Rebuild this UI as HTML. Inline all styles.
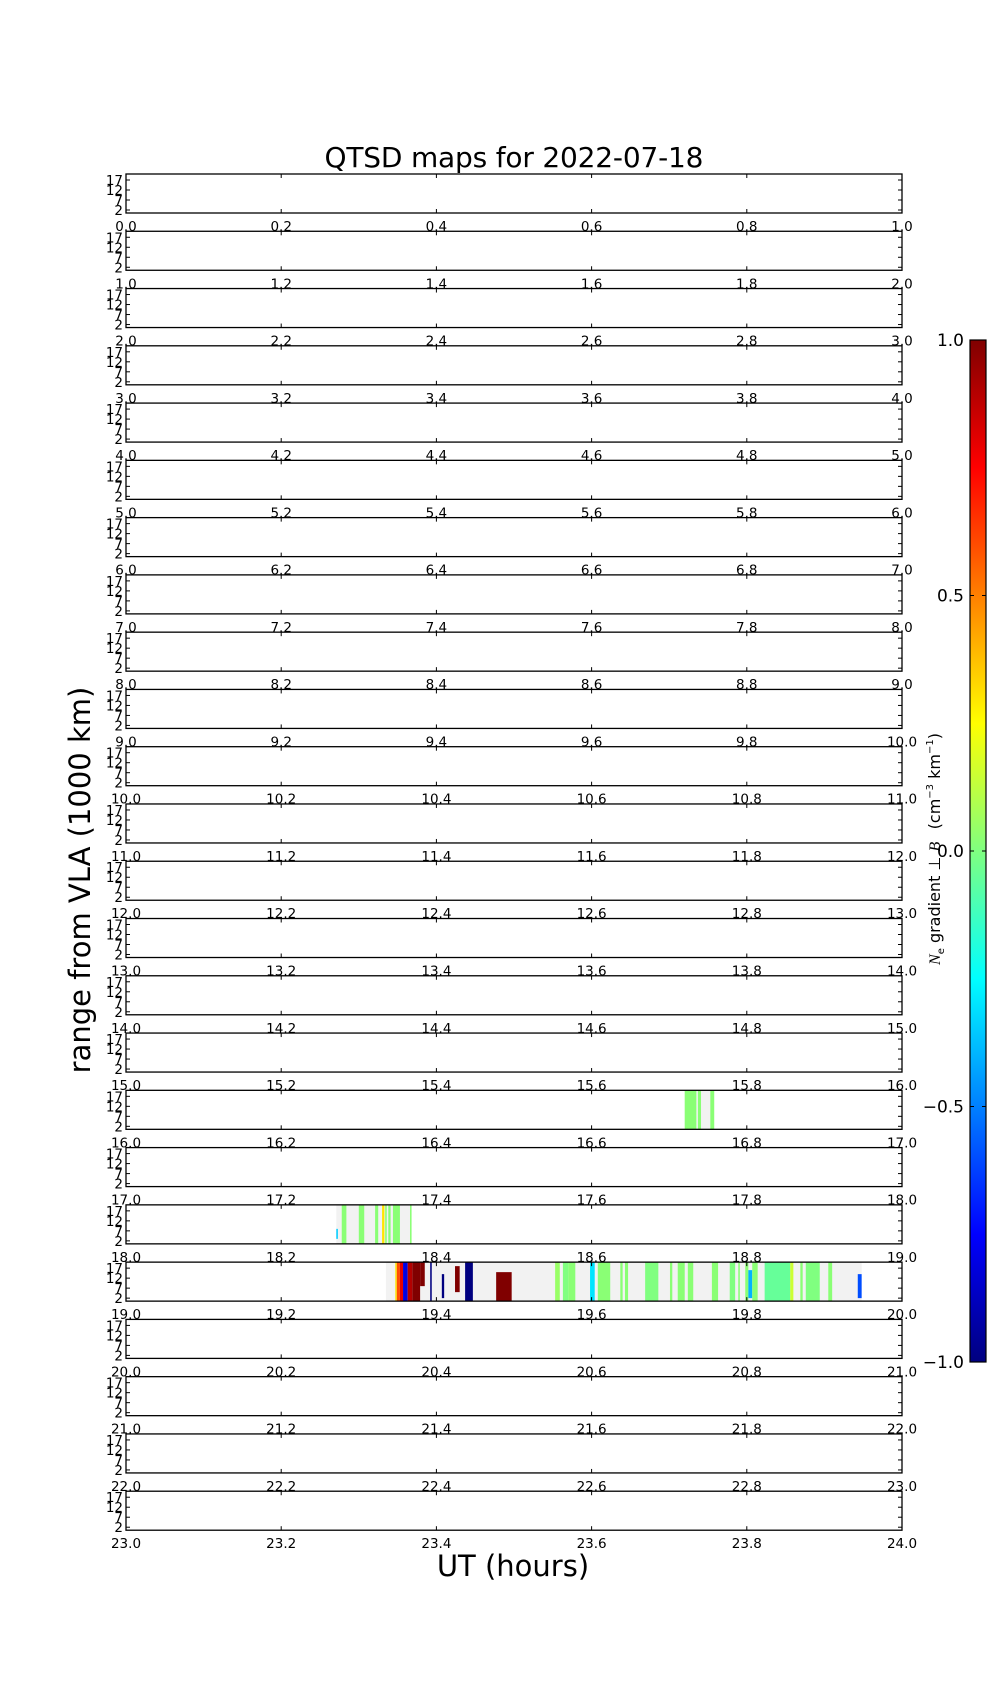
<!DOCTYPE html>
<html><head><meta charset="utf-8"><style>
html,body{margin:0;padding:0;background:#fff;}
svg text{font-family:"DejaVu Sans","Liberation Sans",sans-serif;fill:#000;}
</style></head><body>
<svg id="chart" width="1000" height="1700" viewBox="0 0 1000 1700" xmlns="http://www.w3.org/2000/svg">
<defs><linearGradient id="jetgrad" x1="0" y1="1" x2="0" y2="0"></linearGradient></defs>
<text x="514" y="167" font-size="28" text-anchor="middle" textLength="379">QTSD maps for 2022-07-18</text>
<text transform="translate(90,880) rotate(-90)" font-size="29" text-anchor="middle">range from VLA (1000 km)</text>
<text x="513" y="1576" font-size="29" text-anchor="middle">UT (hours)</text>
<g id="panels"></g>
<g id="cbar"></g>
<text transform="translate(940,849) rotate(-90)" font-size="16" text-anchor="middle"><tspan font-style="italic" font-family="Liberation Serif, serif">N</tspan><tspan font-size="10" dy="4">e</tspan><tspan dy="-4"> gradient ⊥ </tspan><tspan font-style="italic" font-family="Liberation Serif, serif">B⃗</tspan><tspan>(cm</tspan><tspan font-size="10" dy="-7">−3</tspan><tspan dy="7"> km</tspan><tspan font-size="10" dy="-7">−1</tspan><tspan dy="7">)</tspan></text>
</svg>
<script>
// data
const panelHours = [0,1,2,3,4,5,6,7,8,9,10,11,12,13,14,15,16,17,18,19,20,21,22,23];
const xTickLabels = ["0.0","0.2","0.4","0.6","0.8","1.0"];
const yTicks = [2,7,12,17];
const bgStart = [16.720, 18.271, 19.335];
const bgEnd   = [16.758, 18.368, 19.948];
const segStart = [16.720,16.737,16.753, 18.271,18.278,18.300,18.321,18.330,18.334,18.338,18.344,18.366,
  19.347,19.349,19.353,19.357,19.363,19.369,19.379,19.392,19.407,19.424,19.437,19.477,
  19.553,19.563,19.570,19.598,19.608,19.637,19.643,19.669,19.701,19.711,19.724,19.755,19.778,19.789,19.798,19.802,19.807,19.823,19.856,19.869,19.876,19.905,19.943];
const segEnd   = [16.735,16.741,16.758, 18.273,18.284,18.307,18.325,18.333,18.336,18.341,18.353,18.368,
  19.349,19.353,19.357,19.363,19.369,19.379,19.385,19.394,19.410,19.430,19.447,19.497,
  19.559,19.570,19.579,19.604,19.624,19.640,19.647,19.686,19.704,19.720,19.731,19.763,19.785,19.791,19.802,19.807,19.814,19.856,19.860,19.872,19.894,19.910,19.948];
const segVal   = [0.02,0.02,0.02, -0.35,0.02,0.02,0.02,0.3,0.02,0.02,0.02,0.02,
  0.3,0.6,0.8,-0.8,0.9,1.0,1.0,-1.0,-1.0,1.0,-1.0,1.0,
  0.05,0.0,0.02,-0.3,0.02,0.02,0.02,0.0,0.02,0.02,0.02,0.02,0.0,0.02,0.02,-0.4,0.02,-0.05,0.15,0.02,0.0,0.02,-0.6];
const segY0    = [0.5,0.5,0.5, 3,0.5,0.5,0.5,0.5,0.5,0.5,0.5,0.5,
  0.5,0.5,0.5,0.5,0.5,0.5,8,0.5,2,5,0.5,0.5,
  0.5,0.5,0.5,0.5,0.5,0.5,0.5,0.5,0.5,0.5,0.5,0.5,0.5,0.5,0.5,2,0.5,0.5,0.5,0.5,0.5,0.5,2];
const segY1    = [20,20,20, 8,20,20,20,20,20,20,20,20,
  20,20,20,20,20,20,20,20,14,18,20,15,
  20,20,20,20,20,20,20,20,20,20,20,20,20,20,20,16,20,20,20,20,20,20,14];
const cbTicks = [-1.0,-0.5,0.0,0.5,1.0];
const cbTickLabels = ["−1.0","−0.5","0.0","0.5","1.0"];

const NS="http://www.w3.org/2000/svg";
const L=126, R=902, TOP0=174, PITCH=57.27, PH=39, YMIN=0.5, YMAX=20;
function jet(v){
  const t=(v+1)/2;
  const cl=x=>Math.max(0,Math.min(1,x));
  const r=cl(Math.min(4*t-1.5,-4*t+4.5)), g=cl(Math.min(4*t-0.5,-4*t+3.5)), b=cl(Math.min(4*t+0.5,-4*t+2.5));
  return `rgb(${Math.round(r*255)},${Math.round(g*255)},${Math.round(b*255)})`;
}
function mk(tag,attrs,parent){const e=document.createElementNS(NS,tag);for(const k in attrs)e.setAttribute(k,attrs[k]);parent.appendChild(e);return e;}
const panels=document.getElementById('panels');
panelHours.forEach((h,i)=>{
  const top=TOP0+i*PITCH;
  const xs=v=>L+(v-h)*(R-L);
  const ys=v=>top+(YMAX-v)/(YMAX-YMIN)*PH;
  const g=mk('g',{},panels);
  
  
  bgStart.forEach((s,k)=>{ if(s>=h&&s<h+1){
    const r=mk('rect',{x:xs(s),y:top,width:xs(bgEnd[k])-xs(s),height:PH,fill:'#f2f2f2'},g);
    
    
  }});
  segStart.forEach((s,k)=>{ if(s>=h&&s<h+1){
    const r=mk('rect',{x:xs(s),y:ys(segY1[k]),width:Math.max(0.8,xs(segEnd[k])-xs(s)),height:ys(segY0[k])-ys(segY1[k]),fill:jet(segVal[k])},g);
    
    
  }});
  const fr=mk('rect',{x:L,y:top,width:R-L,height:PH,fill:'none',stroke:'#000','stroke-width':1.3},g);
  
  
  xTickLabels.forEach((lab,k)=>{
    const x=L+k*0.2*(R-L);
    mk('line',{x1:x,y1:top,x2:x,y2:top+4,stroke:'#000','stroke-width':1},g);
    mk('line',{x1:x,y1:top+PH,x2:x,y2:top+PH-4,stroke:'#000','stroke-width':1},g);
    const t=mk('text',{x:x,y:top+PH+18,'font-size':13.5,'text-anchor':'middle'},g);
    
    
    t.textContent=(h+parseFloat(lab)).toFixed(1);
  });
  yTicks.forEach(v=>{
    const y=ys(v);
    mk('line',{x1:L,y1:y,x2:L+4,y2:y,stroke:'#000','stroke-width':1},g);
    mk('line',{x1:R,y1:y,x2:R-4,y2:y,stroke:'#000','stroke-width':1},g);
    const t=mk('text',{x:L-3,y:y+5,'font-size':13.5,'text-anchor':'end'},g);
    
    
    t.textContent=String(v);
  });
});
const grad=document.getElementById('jetgrad');
for(let k=0;k<=40;k++){const v=-1+k/20;mk('stop',{offset:(k/40),'stop-color':jet(v)},grad);}
const cb=document.getElementById('cbar');
const CBL=970,CBR=986,CBT=340,CBB=1362;
const cy=v=>CBB-(v+1)/2*(CBB-CBT);
const cr=mk('rect',{x:CBL,y:CBT,width:CBR-CBL,height:CBB-CBT,fill:'url(#jetgrad)',stroke:'#000','stroke-width':1.2},cb);


cbTicks.forEach((v,k)=>{
  const y=cy(v);
  mk('line',{x1:CBL,y1:y,x2:CBL+4,y2:y,stroke:'#000','stroke-width':1},cb);
  mk('line',{x1:CBR,y1:y,x2:CBR-4,y2:y,stroke:'#000','stroke-width':1},cb);
  const t=mk('text',{x:964,y:y+6,'font-size':17,'text-anchor':'end'},cb);
  
  
  t.textContent=cbTickLabels[k];
});
</script>
</body></html>
